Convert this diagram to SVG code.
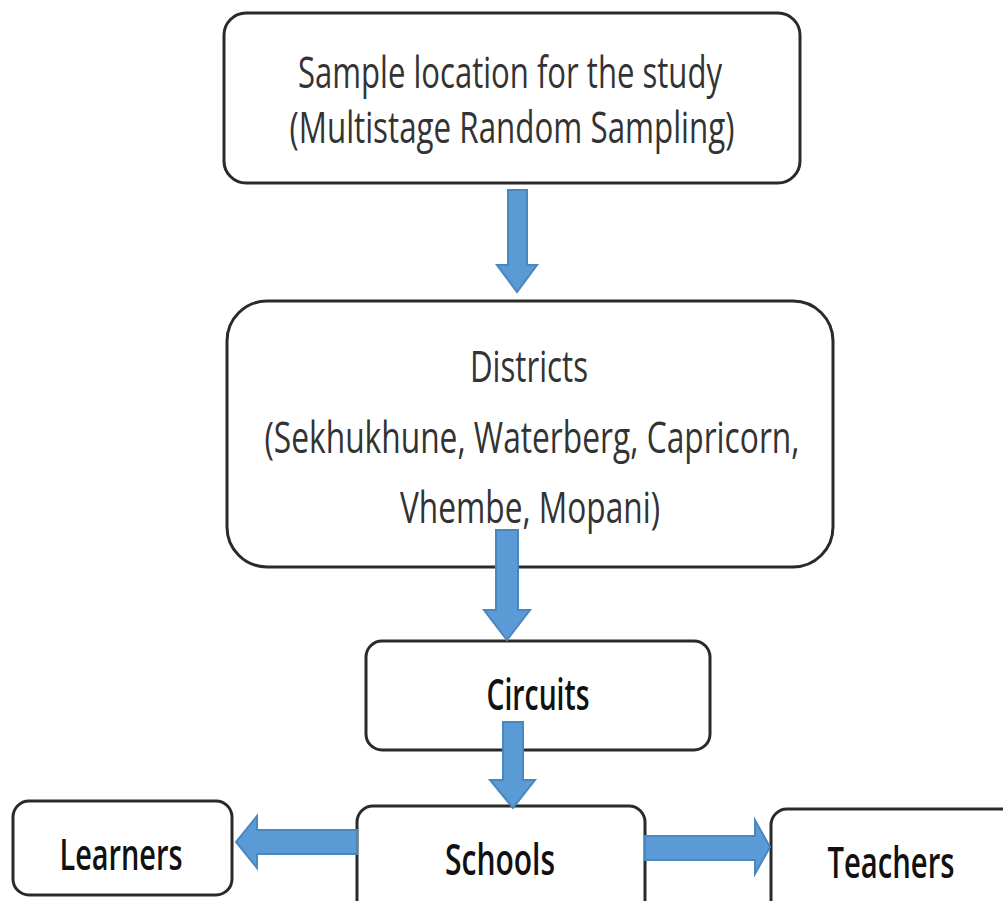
<svg xmlns="http://www.w3.org/2000/svg" width="1003" height="901" viewBox="0 0 1003 901">
<style>
.box{fill:#fff;stroke:#2a2a2a;stroke-width:3}
.t{font-family:"Open Sans","Noto Sans",sans-serif;font-size:44px;font-weight:500;fill:#333;text-anchor:middle}
.b{fill:#111;font-weight:600}
.arr{fill:#5b9bd5;stroke:#4a86bf;stroke-width:2}
</style>
<rect width="1003" height="901" fill="#fff"/>
<g id="node-sample">
<rect class="box" x="224" y="13" width="576" height="170" rx="22"/>
<text class="t" x="510" y="88" textLength="424" lengthAdjust="spacingAndGlyphs">Sample location for the study</text>
<text class="t" x="512" y="143" textLength="445" lengthAdjust="spacingAndGlyphs">(Multistage Random Sampling)</text>
</g>
<g id="node-districts">
<rect class="box" x="227" y="301" width="606" height="266" rx="40"/>
<text class="t" x="529" y="382" textLength="118" lengthAdjust="spacingAndGlyphs">Districts</text>
<text class="t" x="532" y="453" textLength="535" lengthAdjust="spacingAndGlyphs">(Sekhukhune, Waterberg, Capricorn,</text>
<text class="t" x="530" y="523" textLength="260" lengthAdjust="spacingAndGlyphs">Vhembe, Mopani)</text>
</g>
<g id="node-circuits">
<rect class="box" x="366" y="641" width="344" height="109" rx="16"/>
<text class="t b" x="538" y="710" textLength="103" lengthAdjust="spacingAndGlyphs">Circuits</text>
</g>
<g id="node-schools">
<rect class="box" x="357" y="806" width="288" height="110" rx="16"/>
<text class="t b" x="500" y="875" textLength="110" lengthAdjust="spacingAndGlyphs">Schools</text>
</g>
<g id="node-learners">
<rect class="box" x="13" y="801" width="219" height="94" rx="16"/>
<text class="t b" x="121" y="870" textLength="123" lengthAdjust="spacingAndGlyphs">Learners</text>
</g>
<g id="node-teachers">
<rect class="box" x="771" y="809" width="260" height="110" rx="16"/>
<text class="t b" x="891" y="878" textLength="127" lengthAdjust="spacingAndGlyphs">Teachers</text>
</g>
<g id="connectors">
<path class="arr" d="M508,190 H527 V265 H537 L517,292 L497,265 H508 Z"/>
<path class="arr" d="M496,530 H518 V610 H530 L507,640 L484,610 H496 Z"/>
<path class="arr" d="M503,722 H523 V780 H535 L513,808 L490,780 H503 Z"/>
<path class="arr" d="M357,830 V854 H257 V868 L236,842 L257,816 V830 Z"/>
<path class="arr" d="M645,836 H755 V820 L770,847 L755,874 V860 H645 Z"/>
</g>
</svg>
